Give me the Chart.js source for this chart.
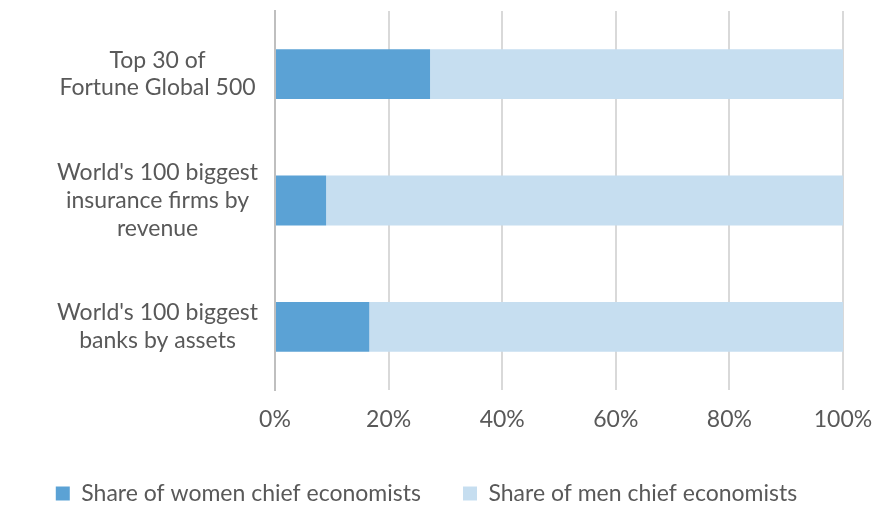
<!DOCTYPE html>
<html>
<head>
<meta charset="utf-8">
<script src="https://cdn.jsdelivr.net/npm/chart.js@4/dist/chart.umd.min.js"></script>
<style>
  html, body { margin: 0; padding: 0; background: #ffffff; }
  #wrap { width: 873px; height: 506px; position: relative; }
</style>
</head>
<body>
<div id="wrap"><canvas id="c"></canvas></div>
<script>
// Categories (multi-line labels), top to bottom
const categories = [
  ["Top 30 of", "Fortune Global 500"],
  ["World's 100 biggest", "insurance firms by", "revenue"],
  ["World's 100 biggest", "banks by assets"]
];
// Share of chief economists, in percent
const womenShare = [27.3, 9.0, 16.6];
const menShare = [72.7, 91.0, 83.4];
const seriesNames = ["Share of women chief economists", "Share of men chief economists"];
const xTicks = [0, 20, 40, 60, 80, 100];

const FONT = "Lato, 'Open Sans', sans-serif";
const TEXT = "#595959";
const FS = 23;

// Keep the legend band compact while leaving a wide gap between its items
const compactLegend = {
  id: "compactLegend",
  beforeLayout(chart) {
    const lg = chart.legend;
    if (lg && !lg._compact) {
      const fit = lg.fit;
      lg.fit = function () { fit.call(this); this.height = 66; };
      lg._compact = true;
    }
  }
};

new Chart(document.getElementById("c"), {
  type: "bar",
  data: {
    labels: categories,
    datasets: [
      { label: seriesNames[0], data: womenShare, backgroundColor: "#5BA2D5", borderWidth: 0 },
      { label: seriesNames[1], data: menShare, backgroundColor: "#C6DEF0", borderWidth: 0 }
    ]
  },
  plugins: [compactLegend],
  options: {
    indexAxis: "y",
    responsive: true,
    maintainAspectRatio: false,
    animation: false,
    layout: { padding: { top: 11, right: 20, left: 0, bottom: 0 } },
    datasets: { bar: { categoryPercentage: 1, barPercentage: 0.395 } },
    scales: {
      x: {
        stacked: true,
        min: 0, max: 100,
        afterBuildTicks: s => { s.ticks = xTicks.map(v => ({ value: v })); },
        afterFit: s => { s.height = 50; s.paddingRight = 30; s.paddingLeft = 0; },
        grid: { color: "#D9D9D9", lineWidth: 2, drawTicks: false },
        border: { display: false },
        ticks: {
          color: TEXT, padding: 16,
          font: { family: FONT, size: FS, lineHeight: 1.2 },
          callback: v => v + "%"
        }
      },
      y: {
        stacked: true,
        afterFit: s => { s.width = 275; s.paddingTop = 0; s.paddingBottom = 0; },
        grid: { display: false, drawTicks: false },
        border: { display: true, color: "#BFBFBF", width: 2 },
        ticks: {
          color: TEXT, padding: 17, crossAlign: "center",
          font: { family: FONT, size: FS, lineHeight: 1.2 }
        }
      }
    },
    plugins: {
      tooltip: { enabled: false },
      legend: {
        position: "bottom",
        labels: {
          color: TEXT, boxWidth: 14, boxHeight: 14, padding: 42,
          font: { family: FONT, size: FS }
        }
      }
    }
  }
});
</script>
</body>
</html>
